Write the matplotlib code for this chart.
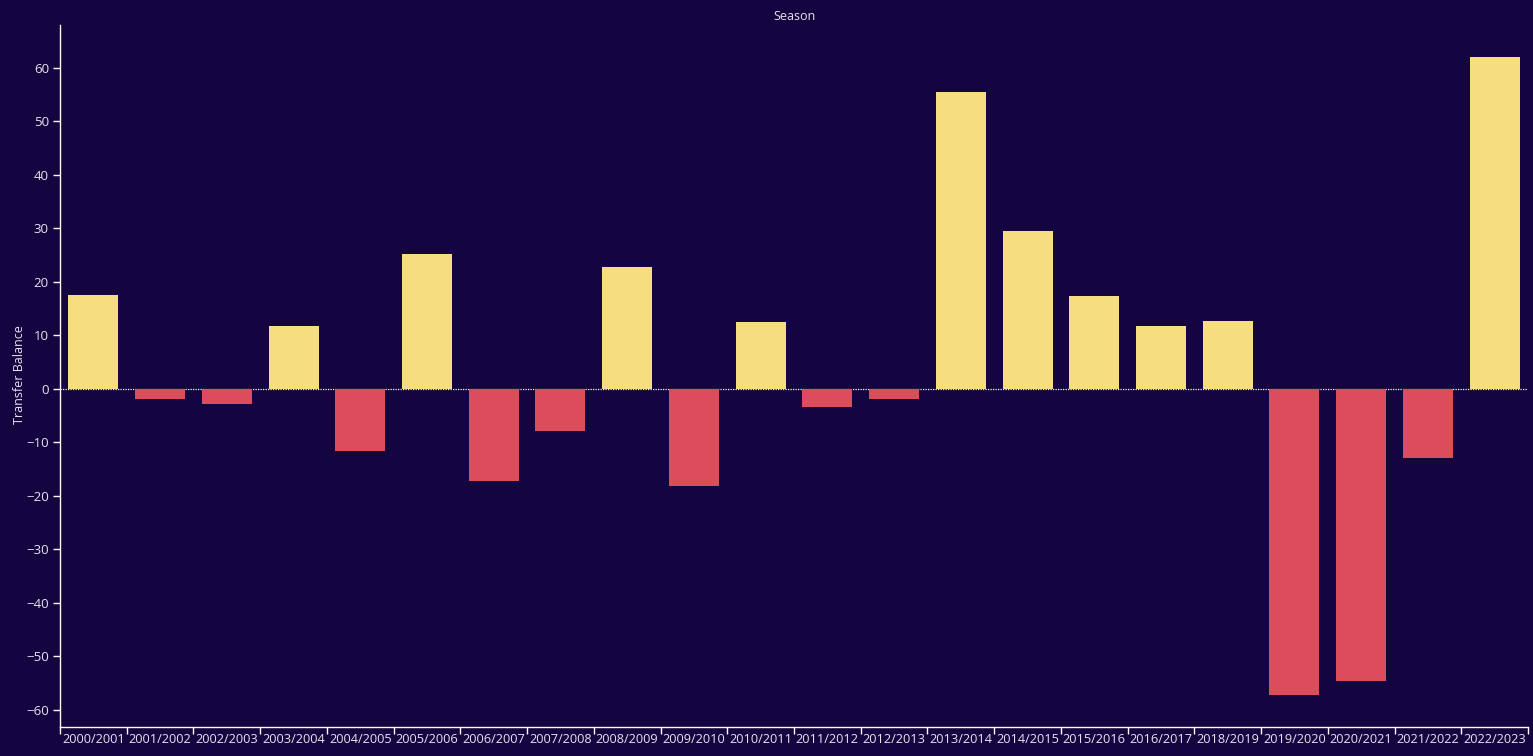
import matplotlib
matplotlib.use("Agg")
import matplotlib.pyplot as plt
import numpy as np

seasons = ["2000/2001", "2001/2002", "2002/2003", "2003/2004", "2004/2005", "2005/2006",
           "2006/2007", "2007/2008", "2008/2009", "2009/2010", "2010/2011", "2011/2012",
           "2012/2013", "2013/2014", "2014/2015", "2015/2016", "2016/2017", "2018/2019",
           "2019/2020", "2020/2021", "2021/2022", "2022/2023"]
balance = [17.6, -1.9, -2.8, 11.8, -11.6, 25.2, -17.2, -7.9, 22.8, -18.1, 12.5, -3.4,
           -1.9, 55.5, 29.5, 17.4, 11.8, 12.7, -57.2, -54.6, -12.9, 62.1]

bg = "#140540"
pos_color = "#F6DE80"
neg_color = "#DC4C5C"
txt = "#E6E4EE"

plt.rcParams['font.family'] = ['Open Sans', 'DejaVu Sans']

fig = plt.figure(figsize=(15.33, 7.56), dpi=100, facecolor=bg)
ax = fig.add_axes([60/1533, 29/756, 1468/1533, 702/756], facecolor=bg)

x = np.arange(len(seasons))
colors = [pos_color if v >= 0 else neg_color for v in balance]
ax.axhline(0, color="white", linestyle=(0, (1, 1)), linewidth=0.9, zorder=1)
ax.bar(x, balance, width=0.75, color=colors, zorder=2)

ax.set_xlim(-0.5, len(seasons) - 0.5)
ax.set_ylim(-63.2, 68)
ax.set_yticks(np.arange(-60, 61, 10))
ax.set_xticks(x)
ax.set_xticklabels(seasons)
ax.set_xticks(np.arange(-0.5, len(seasons), 1), minor=True)
ax.tick_params(axis='x', which='major', length=0, pad=4.5, labelsize=9.2, colors=txt)
ax.tick_params(axis='x', which='minor', length=5, width=1, color="white")
ax.tick_params(axis='y', length=5, width=1, color="white", labelsize=9.5, labelcolor=txt, pad=3)

for s in ["top", "right"]:
    ax.spines[s].set_visible(False)
for s in ["left", "bottom"]:
    ax.spines[s].set_color("white")
    ax.spines[s].set_linewidth(1)

fig.text(20/1533, 1 - 375/756, "Transfer Balance", color=txt, fontsize=9,
         rotation=90, ha="center", va="center")
fig.text(794/1533, 1 - 16/756, "Season", color=txt, fontsize=9, ha="center", va="center")

fig.savefig("out.png", dpi=100, facecolor=bg)
